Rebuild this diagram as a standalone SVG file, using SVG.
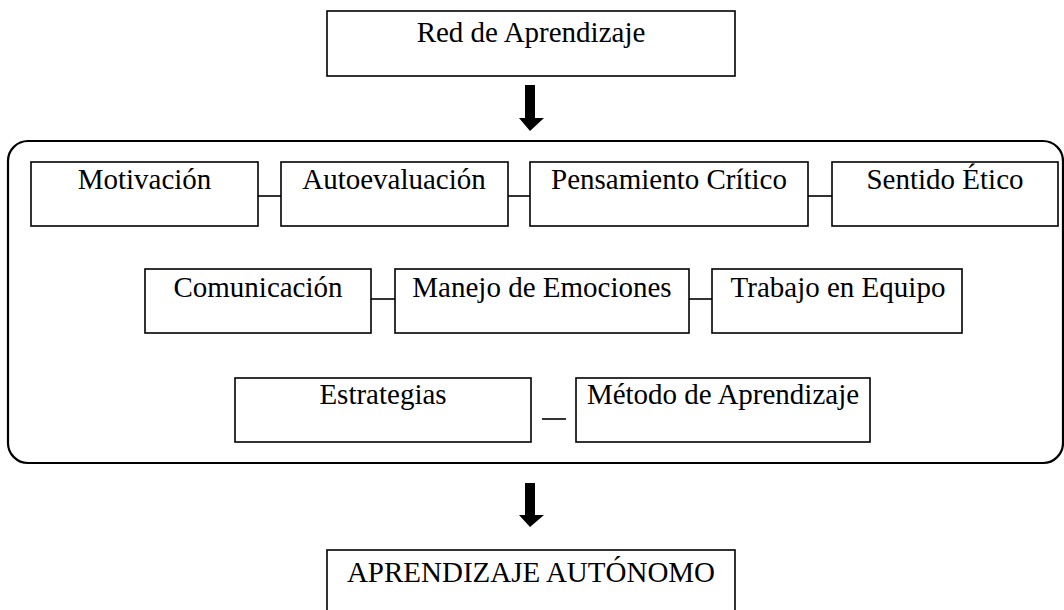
<svg xmlns="http://www.w3.org/2000/svg" width="1064" height="610" viewBox="0 0 1064 610">
<defs>
<style>
.box{fill:#fff;stroke:#000;stroke-width:1.6}
.cont{fill:none;stroke:#000;stroke-width:2.2}
.lbl{font-family:"Liberation Serif","Times New Roman",serif;font-size:29px;fill:#000;text-anchor:middle}
.con{stroke:#000;stroke-width:1.6;fill:none}
.arr{fill:#000}
</style>
</defs>
<rect width="1064" height="610" fill="#fff"/>
<rect id="container" class="cont" x="8" y="141" width="1055" height="322" rx="20" ry="20"/>
<g id="connectors">
<line class="con" x1="258" y1="196" x2="281" y2="196"/>
<line class="con" x1="508" y1="196" x2="530" y2="196"/>
<line class="con" x1="808" y1="196" x2="832" y2="196"/>
<line class="con" x1="371" y1="299" x2="395" y2="299"/>
<line class="con" x1="689" y1="299" x2="712" y2="299"/>
<line class="con" x1="542" y1="419" x2="566" y2="419"/>
<polygon class="arr" points="525,85 535,85 535,118 544,118 530,131 519,118 525,118"/>
<polygon class="arr" points="525,483 535,483 535,515 544,515 530,527 519,515 525,515"/>
</g>
<g id="red"><rect class="box" x="327" y="11" width="408" height="65"/><text class="lbl" x="531" y="42">Red de Aprendizaje</text></g>
<g id="motivacion"><rect class="box" x="31" y="162" width="227" height="64"/><text class="lbl" x="144.5" y="189">Motivación</text></g>
<g id="autoevaluacion"><rect class="box" x="281" y="162" width="227" height="64"/><text class="lbl" x="394" y="189">Autoevaluación</text></g>
<g id="pensamiento"><rect class="box" x="530" y="162" width="278" height="64"/><text class="lbl" x="669" y="189">Pensamiento Crítico</text></g>
<g id="sentido"><rect class="box" x="832" y="162" width="226" height="64"/><text class="lbl" x="945" y="189">Sentido Ético</text></g>
<g id="comunicacion"><rect class="box" x="145" y="269" width="226" height="64"/><text class="lbl" x="258" y="297">Comunicación</text></g>
<g id="manejo"><rect class="box" x="395" y="269" width="294" height="64"/><text class="lbl" x="542" y="297">Manejo de Emociones</text></g>
<g id="trabajo"><rect class="box" x="712" y="269" width="250" height="64"/><text class="lbl" x="838" y="297">Trabajo en Equipo</text></g>
<g id="estrategias"><rect class="box" x="235" y="378" width="296" height="64"/><text class="lbl" x="383" y="404">Estrategias</text></g>
<g id="metodo"><rect class="box" x="576" y="378" width="294" height="64"/><text class="lbl" x="723" y="404">Método de Aprendizaje</text></g>
<g id="autonomo"><rect class="box" x="327" y="550" width="408" height="70"/><text class="lbl" x="531" y="582">APRENDIZAJE AUTÓNOMO</text></g>
</svg>
